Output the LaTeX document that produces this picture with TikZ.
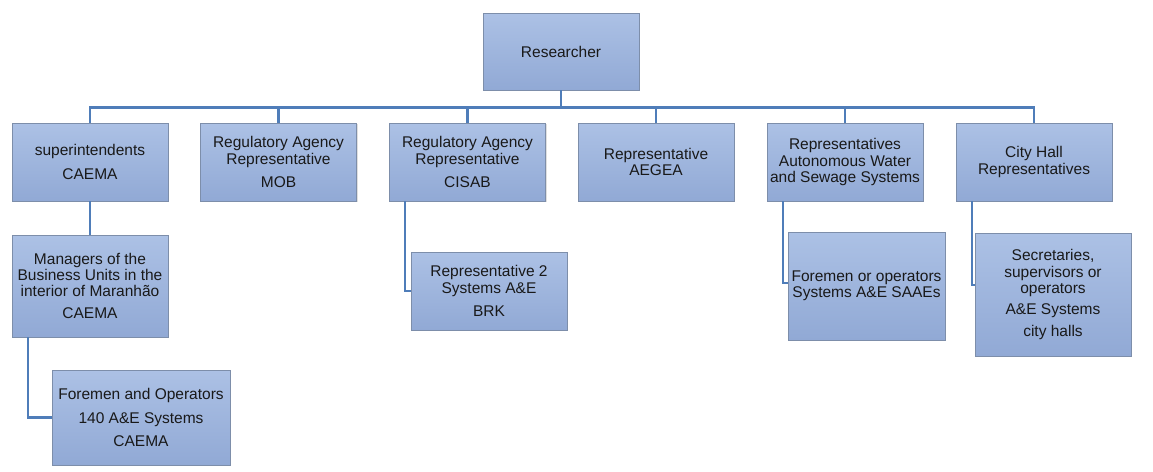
\documentclass[tikz,border=0pt]{standalone}
\usepackage{fontspec}
\setmainfont{Liberation Sans}
\usetikzlibrary{shadows}
\definecolor{boxtop}{RGB}{172,193,229}
\definecolor{boxbot}{RGB}{145,169,213}
\definecolor{boxline}{RGB}{125,142,170}
\definecolor{linkc}{RGB}{79,125,185}
\definecolor{txt}{RGB}{25,25,25}
\begin{document}
\begin{tikzpicture}[x=1pt,y=-1pt,
  box/.style={rectangle, draw=boxline, line width=0.8pt, top color=boxtop, bottom color=boxbot,
    minimum width=156pt, minimum height=78pt, inner sep=0pt, align=center, text=txt,
    font=\fontsize{15.5}{16.3}\selectfont,
    drop shadow={opacity=0.25, shadow xshift=1pt, shadow yshift=-1.2pt}},
  link/.style={draw=linkc, line width=2.4pt}]
\useasboundingbox (0,0) rectangle (1153,471);
\fill[white] (0,0) rectangle (1153,471);

\node[box, minimum height=77pt] (res) at (561,51.5) {Researcher};

\node[box] (b1) at (90,162) {superintendents\\[7pt]CAEMA};
\node[box] (b2) at (278.5,162) {Regulatory Agency\\Representative\\[7pt]MOB};
\node[box] (b3) at (467.5,162) {Regulatory Agency\\Representative\\[7pt]CISAB};
\node[box] (b4) at (656,162) {Representative\\AEGEA};
\node[box] (b5) at (845,162) {Representatives\\Autonomous Water\\and Sewage Systems};
\node[box] (b6) at (1034,162) {City Hall\\Representatives};

\node[box, minimum height=102pt] (m1) at (90,286) {Managers of the\\Business Units in the\\interior of Maranhão\\[6pt]CAEMA};
\node[box, minimum width=178pt, minimum height=95pt] (f1) at (141,417.5) {Foremen and Operators\\[7pt]140 A\&E Systems\\[7pt]CAEMA};
\node[box] (brk) at (489,291) {Representative 2\\Systems A\&E\\[7pt]BRK};
\node[box, minimum width=157pt, minimum height=108pt] (saae) at (866.5,286) {Foremen or operators\\Systems A\&E SAAEs};
\node[box, minimum height=123pt] (sec) at (1053,294.5) {Secretaries,\\supervisors or\\operators\\[5pt]A\&E Systems\\[5pt]city halls};

\begin{scope}[on background layer/.style={}]
\foreach \c in {b1,b2,b3,b4,b5,b6}{
  \draw[link] (res.south) -- ++(0,17) -| (\c.north);
}
\draw[link] (b1.south) -- (m1.north);
\draw[link] ([xshift=-62pt]m1.south) |- (f1.west);
\draw[link] ([xshift=-62.5pt]b3.south) |- (brk.west);
\draw[link] ([xshift=-62pt]b5.south) |- ([yshift=3pt]saae.west);
\draw[link] ([xshift=-62pt]b6.south) |- ([yshift=9.5pt]sec.west);
\end{scope}
\end{tikzpicture}
\end{document}
